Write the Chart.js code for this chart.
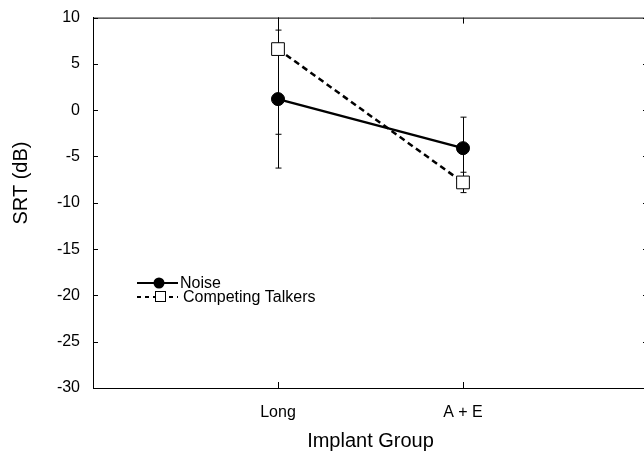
<!DOCTYPE html>
<html>
<head>
<meta charset="utf-8">
<script src="https://cdn.jsdelivr.net/npm/chart.js@4.4.1/dist/chart.umd.min.js"></script>
<style>
  html, body { margin: 0; padding: 0; background: #fff; overflow: hidden; }
  #wrap { width: 658px; height: 461px; position: relative; top: -5px; }
</style>
</head>
<body>
<div id="wrap"><canvas id="chart"></canvas></div>
<script>
/* ─── Data ─────────────────────────────────────────────────────────────────── */

const groups      = ['Long', 'A + E'];
const groupX      = [1, 2];
const noiseSrt    = [1.2, -4.1];
const noiseErr    = [7.45, 3.35];
const talkersSrt  = [6.6, -7.8];
const talkersErr  = [9.2, 1.1];
const yTicks      = [-30, -25, -20, -15, -10, -5, 0, 5, 10];

const FONT = 'Liberation Sans, Arial, Helvetica, sans-serif';
const SHIFT = 5;   // the canvas sits 5px above the page top

/* ─── Plugins ──────────────────────────────────────────────────────────────── */

// error bars, drawn under the markers
const errorBars = {
  id: 'errorBars',
  beforeDatasetsDraw(chart) {
    const { ctx, chartArea: a, scales: { x, y } } = chart;
    const sets = [[noiseSrt, noiseErr], [talkersSrt, talkersErr]];
    ctx.save();
    ctx.beginPath();
    ctx.rect(a.left, a.top, a.right - a.left, a.bottom - a.top);
    ctx.clip();
    ctx.strokeStyle = '#000';
    ctx.lineWidth = 1;
    sets.forEach(([vals, errs]) => {
      vals.forEach((v, i) => {
        const px  = Math.round(x.getPixelForValue(groupX[i])) + 0.5;
        const top = y.getPixelForValue(v + errs[i]);
        const bot = y.getPixelForValue(v - errs[i]);
        ctx.beginPath();
        ctx.moveTo(px, top); ctx.lineTo(px, bot);
        ctx.moveTo(px - 3, top); ctx.lineTo(px + 3, top);
        ctx.moveTo(px - 3, bot); ctx.lineTo(px + 3, bot);
        ctx.stroke();
      });
    });
    ctx.restore();
  },
};

// box top line, inward tick marks and the y title
const frame = {
  id: 'frame',
  afterDraw(chart) {
    const { ctx, chartArea: a, scales: { x, y } } = chart;
    ctx.save();
    ctx.strokeStyle = '#000';
    ctx.lineWidth = 1;
    ctx.beginPath();
    ctx.moveTo(a.left, a.top + 0.5); ctx.lineTo(a.right, a.top + 0.5);
    yTicks.forEach(t => {
      const py = Math.round(y.getPixelForValue(t)) + 0.5;
      ctx.moveTo(a.left, py);  ctx.lineTo(a.left + 5, py);
      ctx.moveTo(a.right, py); ctx.lineTo(a.right - 5, py);
    });
    groupX.forEach(g => {
      const px = Math.round(x.getPixelForValue(g)) + 0.5;
      ctx.moveTo(px, a.bottom); ctx.lineTo(px, a.bottom - 6);
      ctx.moveTo(px, a.top);    ctx.lineTo(px, a.top + 6);
    });
    ctx.stroke();

    ctx.translate(21, 183 + SHIFT);
    ctx.rotate(-Math.PI / 2);
    ctx.font = '20px ' + FONT;
    ctx.fillStyle = '#000';
    ctx.textAlign = 'center';
    ctx.textBaseline = 'middle';
    ctx.fillText('SRT (dB)', 0, 0);
    ctx.restore();
  },
};

// legend in the lower left of the plot
const legendBox = {
  id: 'legendBox',
  afterDraw(chart) {
    const { ctx } = chart;
    const rows = [
      { label: 'Noise', y: 283 + SHIFT, dash: [], style: 'circle' },
      { label: 'Competing Talkers', y: 297 + SHIFT, dash: [4, 4], style: 'rect' },
    ];
    ctx.save();
    ctx.font = '16px ' + FONT;
    ctx.textBaseline = 'middle';
    rows.forEach(r => {
      ctx.strokeStyle = '#000';
      ctx.lineWidth = 2;
      ctx.setLineDash(r.dash);
      ctx.beginPath();
      ctx.moveTo(137, r.y); ctx.lineTo(178, r.y);
      ctx.stroke();
      ctx.setLineDash([]);
      if (r.style === 'circle') {
        ctx.beginPath();
        ctx.arc(159, r.y, 5.5, 0, Math.PI * 2);
        ctx.fillStyle = '#000';
        ctx.fill();
      } else {
        ctx.fillStyle = '#fff';
        ctx.lineWidth = 1;
        ctx.fillRect(155, r.y - 5, 10, 10);
        ctx.strokeRect(155.5, r.y - 5.5, 10, 10);
      }
      ctx.fillStyle = '#000';
      ctx.fillText(r.label, r.style === 'circle' ? 180 : 183, r.y + 1);
    });
    ctx.restore();
  },
};

/* ─── Chart ────────────────────────────────────────────────────────────────── */

new Chart(document.getElementById('chart').getContext('2d'), {
  type: 'line',
  data: {
    datasets: [
      {
        label: 'Noise',
        data: groupX.map((g, i) => ({ x: g, y: noiseSrt[i] })),
        borderColor: '#000',
        borderWidth: 2.5,
        pointStyle: 'circle',
        pointRadius: 6.5,
        pointBackgroundColor: '#000',
        pointBorderColor: '#000',
        pointBorderWidth: 1,
      },
      {
        label: 'Competing Talkers',
        data: groupX.map((g, i) => ({ x: g, y: talkersSrt[i] })),
        borderColor: '#000',
        borderWidth: 2.5,
        borderDash: [6, 4],
        pointStyle: 'rect',
        pointRadius: 9,
        pointBackgroundColor: '#fff',
        pointBorderColor: '#000',
        pointBorderWidth: 1,
      },
    ],
  },
  options: {
    responsive: true,
    maintainAspectRatio: false,
    animation: false,
    layout: { padding: { top: 7, right: 4, left: 0, bottom: 0 } },
    plugins: { legend: { display: false }, tooltip: { enabled: false } },
    scales: {
      x: {
        type: 'linear',
        min: 0,
        max: 3,
        afterBuildTicks: s => { s.ticks = groupX.map(v => ({ value: v })); },
        afterFit: s => { s.height = 68; },
        ticks: {
          color: '#000',
          font: { family: FONT, size: 16 },
          padding: 15,
          callback: v => groups[groupX.indexOf(v)] ?? '',
        },
        grid: { display: true, drawOnChartArea: false, drawTicks: false },
        border: { display: true, color: '#000', width: 1 },
        title: {
          display: true,
          text: 'Implant Group',
          color: '#000',
          font: { family: FONT, size: 20 },
          padding: { top: 0, bottom: 3 },
        },
      },
      y: {
        min: -30,
        max: 10,
        afterBuildTicks: s => { s.ticks = yTicks.map(v => ({ value: v })); },
        afterFit: s => { s.width = 93; },
        ticks: {
          color: '#000',
          font: { family: FONT, size: 16 },
          padding: 13,
        },
        grid: { display: true, drawOnChartArea: false, drawTicks: false },
        border: { display: true, color: '#000', width: 1 },
      },
    },
  },
  plugins: [errorBars, frame, legendBox],
});
</script>
</body>
</html>
